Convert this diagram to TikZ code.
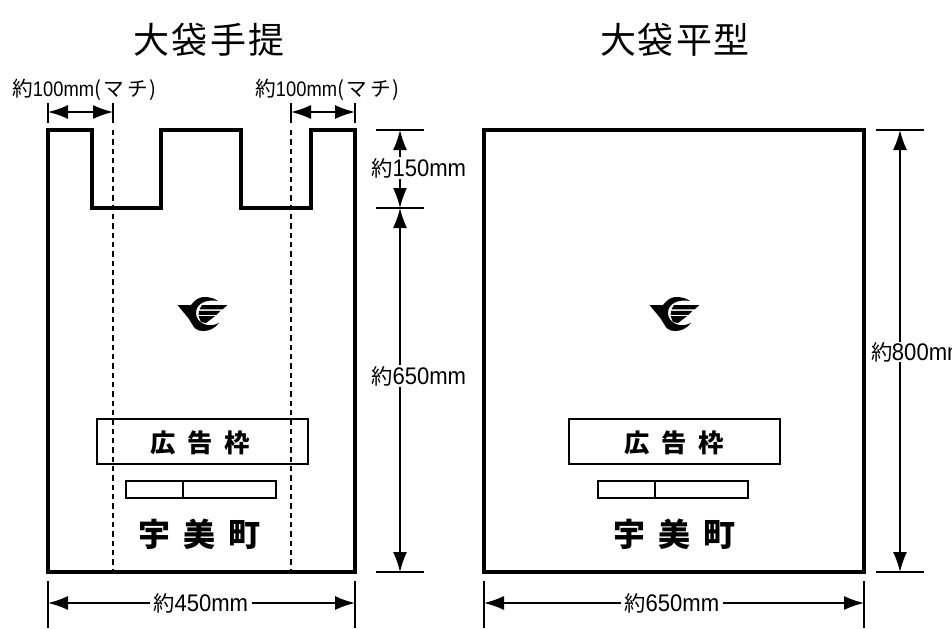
\documentclass[tikz,border=0pt]{standalone}
\usepackage{fontspec}
\usetikzlibrary{arrows.meta}
\setmainfont{Noto Sans CJK JP}
\newfontfamily\latinf{Liberation Sans}
\newcommand{\dimtext}[1]{{\fontsize{16}{16}\selectfont 約\hspace{-0.5pt}{\fontsize{18}{18}\selectfont\latinf\scalebox{0.92}[1]{#1}}}}
\newcommand{\machi}{{\fontsize{15.5}{15.5}\selectfont 約{\fontsize{15.8}{15.8}\selectfont\latinf\scalebox{0.87}[1]{100mm}}(\hspace{2pt}マ\hspace{2pt}チ\hspace{1pt})}}
\newcommand{\emblem}{%
  \fill (-25.5,-9) -- (-12,-9) .. controls (-8,-14) and (-4,-17) .. (1,-17)
     .. controls (6,-17) and (11,-16) .. (15,-13)
     .. controls (4,-15) and (-7,-11) .. (-7,-1)
     .. controls (-7,8) and (4,15) .. (16,9)
     .. controls (11,15) and (6,17) .. (0,17)
     .. controls (-6,17) and (-9,14) .. (-11,10)
     .. controls (-14,4) and (-20,-2) .. (-25.5,-9) -- cycle;
  \fill (-1,-9) -- (24.5,-9) -- (19.5,-4.6) -- (-3.5,-4.6) -- cycle;
  \fill (-4,-3.2) -- (17.5,-3.2) -- (13.5,0.8) -- (-4.4,0.8) -- cycle;
  \fill (-4.4,2.2) -- (12,2.2) -- (3,9) -- (-2,8) -- cycle;}
\tikzset{
  x=0.75pt,y=-0.75pt,
  bag/.style={line width=3.7pt,line join=miter},
  fold/.style={line width=1.5pt,dash pattern=on 4pt off 3pt},
  tick/.style={line width=1.05pt},
  dimline/.style={line width=1.2pt,{Latex[length=15pt,width=10.5pt]}-{Latex[length=15pt,width=10.5pt]}},
  lbl/.style={inner sep=1pt,fill=white},
  title/.style={inner sep=0pt,font=\fontsize{27}{27}\selectfont},
  adbox/.style={draw,line width=1.7pt,inner sep=0pt},
  thin box/.style={draw,line width=0.8pt},
  ad/.style={inner sep=0pt,font=\fontsize{19}{19}\bfseries\selectfont},
  town/.style={inner sep=0pt,font=\fontsize{24}{24}\bfseries\selectfont},
}
\begin{document}
\begin{tikzpicture}
\useasboundingbox (0,0) rectangle (952,628);
\node[title] (t1) at (209,40) {大\hspace{2pt}袋\hspace{2pt}手\hspace{2pt}提};
\node[title] (t2) at (675,40) {大\hspace{1.5pt}袋\hspace{1.5pt}平\hspace{1.5pt}型};

% left bag
\draw[bag] (48,130) -- (92,130) -- (92,208) -- (161,208) -- (161,130) -- (241,130) -- (241,208) -- (311,208) -- (311,130) -- (355,130) -- (355,572) -- (48,572) -- cycle;
\coordinate (fl1) at (113,103); \coordinate (fl2) at (113,572);
\coordinate (fr1) at (291,103); \coordinate (fr2) at (291,572);
\draw[fold] (113,130) -- (fl2);
\draw[fold] (291,130) -- (fr2);
\draw[tick] (fl1) -- (113,123);
\draw[tick] (fr1) -- (291,123);
\coordinate (ll) at (48,103);
\coordinate (rr) at (355,103);
\draw[tick] (ll) -- (48,123);
\draw[tick] (rr) -- (355,123);
\draw[dimline] (48,112) -- (113,112);
\draw[dimline] (291,112) -- (355,112);
\node[inner sep=0pt,anchor=west] (m1) at (12,90) {\machi};
\node[inner sep=0pt,anchor=west] (m2) at (255,90) {\machi};

% left vertical dims
\coordinate (a) at (400,130); \coordinate (b) at (400,208); \coordinate (c) at (400,572);
\draw[tick] (376,130) -- (424,130);
\draw[tick] (376,208) -- (424,208);
\draw[tick] (376,572) -- (424,572);
\draw[dimline] (a) -- (b);
\draw[dimline] (b) -- (c);
\node[lbl] (l150) at (419,168) {\dimtext{150mm}};
\node[lbl] (l650) at (419,376) {\dimtext{650mm}};

% left bottom dim
\coordinate (d1) at (48,603); \coordinate (d2) at (355,603);
\draw[tick] (48,581) -- (48,628);
\draw[tick] (355,581) -- (355,628);
\draw[dimline] (d1) -- (d2);
\node[lbl,inner xsep=3pt] (l450) at (201,603) {\dimtext{450mm}};

% left contents
\begin{scope}[shift={(203,314)}] \emblem \end{scope}
\node[adbox,minimum width=158pt,minimum height=33.5pt] (ad1) at (202.5,441.5) {};
\node[ad] (adt1) at (200,443) {広\hspace{9pt}告\hspace{9pt}枠};
\draw[thin box] (126,481) rectangle (276,498);
\draw[thin box] (183,481) -- (183,498);
\node[town] (town1) at (199.5,534) {宇\hspace{10pt}美\hspace{10pt}町};

% right bag
\draw[bag] (484,130) rectangle (864,572);
\coordinate (e) at (900,130); \coordinate (f) at (900,572);
\draw[tick] (876,130) -- (924,130);
\draw[tick] (876,572) -- (924,572);
\draw[dimline] (e) -- (f);
\node[lbl,anchor=west,inner sep=0pt,fill=white] (l800) at (871,352) {\dimtext{800mm}};

\coordinate (g1) at (484,603); \coordinate (g2) at (864,603);
\draw[tick] (484,581) -- (484,628);
\draw[tick] (864,581) -- (864,628);
\draw[dimline] (g1) -- (g2);
\node[lbl,inner xsep=3pt] (l650b) at (672,603) {\dimtext{650mm}};

\begin{scope}[shift={(675,314)}] \emblem \end{scope}
\node[adbox,minimum width=158pt,minimum height=33.5pt] (ad2) at (674.5,441.5) {};
\node[ad] (adt2) at (674,443) {広\hspace{9pt}告\hspace{9pt}枠};
\draw[thin box] (598,481) rectangle (748,498);
\draw[thin box] (655,481) -- (655,498);
\node[town] (town2) at (674.5,534) {宇\hspace{10pt}美\hspace{10pt}町};
\end{tikzpicture}
\end{document}
